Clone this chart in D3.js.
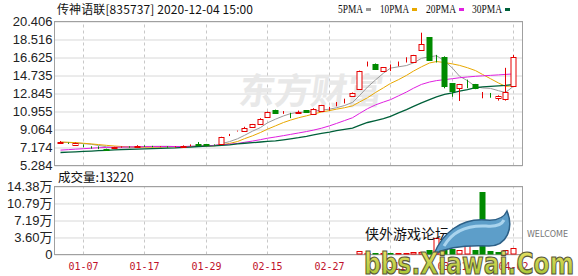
<!DOCTYPE html>
<html>
<head>
<meta charset="utf-8">
<script src="https://cdn.jsdelivr.net/npm/d3@7"></script>
<style>
body { margin: 0; background: #fff; }
svg { display: block; font-family: "Liberation Sans", Arial, "Noto Sans CJK SC", sans-serif; }
</style>
</head>
<body>
<svg id="chart" width="578" height="276"></svg>
<script>
// daily bars
const opens = [7.65,7.65,7.45,7.4,7.25,7.18,7.0,7.1,7.2,7.25,
    7.25,7.35,7.3,7.25,7.25,7.2,7.25,7.35,7.5,7.5,
    7.45,7.55,8.4,8.88,8.9,9.28,9.7,10.36,11.12,10.95,
    10.8,10.88,11.09,10.78,10.95,11.24,11.68,12.0,12.58,13.28,
    15.7,15.95,15.16,15.5,15.88,16.35,16.16,17.4,18.74,16.52,
    16.7,13.9,13.38,14.0,13.8,12.9,12.82,12.34,12.34,13.67];
const closes = [7.75,7.6,7.65,7.35,7.2,7.15,6.9,7.2,7.25,7.22,
    7.38,7.33,7.28,7.27,7.22,7.25,7.32,7.38,7.42,7.42,
    7.42,8.28,8.42,8.9,9.25,9.6,10.2,10.9,10.78,10.98,
    10.78,10.95,10.92,11.26,11.6,11.27,11.72,12.05,12.9,15.22,
    15.72,15.47,15.58,15.55,15.92,16.38,16.86,18.0,16.34,16.48,
    13.66,13.03,13.8,13.98,13.39,12.95,12.78,12.6,13.03,16.68];
const highs = [7.85,7.7,7.7,7.5,7.3,7.3,7.05,7.25,7.3,7.3,
    7.42,7.4,7.35,7.3,7.3,7.3,7.4,7.5,7.75,7.55,
    7.5,8.3,8.6,8.95,9.35,9.65,10.25,10.95,11.15,11.0,
    10.82,11.05,11.1,11.3,11.65,11.45,11.95,12.3,12.95,15.25,
    16.2,16.0,15.6,15.9,16.2,16.65,16.9,19.23,18.76,16.9,
    16.75,13.95,13.85,14.3,13.85,13.0,12.9,12.65,15.54,16.9];
const lows = [7.6,7.55,7.4,7.2,7.05,7.0,6.85,7.05,7.15,7.15,
    7.2,7.25,7.2,7.2,7.15,7.15,7.2,7.3,7.38,7.38,
    7.38,7.5,8.38,8.85,8.85,9.25,9.65,10.3,10.75,10.71,
    10.26,10.8,10.9,10.75,10.9,11.05,11.5,11.8,12.55,13.25,
    15.68,15.45,15.1,15.2,15.7,16.1,16.1,17.35,16.3,16.1,
    13.39,12.5,12.06,13.4,13.3,12.34,12.4,12.1,12.1,13.6];

const ma5 = [7.72,7.7,7.66,7.58,7.51,7.39,7.25,7.16,7.14,7.14,
    7.19,7.28,7.29,7.3,7.3,7.27,7.27,7.29,7.32,7.36,
    7.39,7.58,7.79,8.09,8.45,8.89,9.27,9.77,10.15,10.49,
    10.73,10.88,10.88,10.98,11.1,11.2,11.35,11.58,11.91,12.63,
    13.52,14.27,14.98,15.51,15.65,15.78,16.06,16.54,16.7,16.81,
    16.27,15.5,14.66,14.19,13.57,13.43,13.38,13.14,12.95,13.61];
const ma10 = [7.75,7.72,7.68,7.62,7.55,7.48,7.4,7.33,7.28,7.24,
    7.22,7.2,7.21,7.22,7.24,7.25,7.26,7.28,7.3,7.33,
    7.36,7.45,7.6,7.8,8.1,8.4,8.75,9.1,9.45,9.8,
    10.05,10.3,10.5,10.7,10.9,11.05,11.2,11.35,11.55,11.95,
    12.4,12.95,13.45,13.9,14.3,14.75,15.2,15.65,16.05,16.2,
    16.1,15.95,15.8,15.55,15.25,14.85,14.4,13.95,13.6,13.65];
const ma20 = [6.9,6.95,7.0,7.05,7.1,7.15,7.18,7.2,7.22,7.24,
    7.25,7.26,7.27,7.27,7.28,7.28,7.28,7.3,7.32,7.35,
    7.4,7.45,7.52,7.6,7.72,7.85,8.0,8.15,8.28,8.42,
    8.55,8.7,8.85,9.0,9.2,9.45,9.7,10.0,10.3,10.75,
    11.25,11.65,11.95,12.2,12.6,13.0,13.4,13.8,14.05,14.2,
    14.3,14.4,14.5,14.58,14.65,14.7,14.75,14.8,14.85,14.9];
const ma30 = [6.65,6.68,6.72,6.76,6.8,6.84,6.88,6.92,6.95,6.98,
    7.0,7.02,7.05,7.08,7.1,7.13,7.18,7.22,7.28,7.32,
    7.35,7.4,7.45,7.55,7.62,7.68,7.75,7.82,7.88,7.98,
    8.08,8.2,8.35,8.5,8.65,8.8,8.95,9.07,9.2,9.5,
    9.8,10.0,10.2,10.45,10.8,11.15,11.5,11.85,12.2,12.5,
    12.75,12.9,13.1,13.25,13.45,13.55,13.6,13.65,13.7,13.8];

const volumes = [800,600,700,900,500,600,1200,400,300,500,
    700,400,300,300,400,300,500,600,900,600,
    400,1500,1200,1000,1300,1100,1500,1800,1600,1200,
    900,1000,800,1100,1300,900,1000,1200,1500,6800,
    4000,3500,3000,2500,3000,4000,5000,6000,9000,34000,
    14000,12000,10000,30000,10000,133000,8000,6000,9000,13220];

const priceTicks = [5.284, 7.174, 9.064, 10.955, 12.845, 14.735, 16.625, 18.516, 20.406];
const volTicks = [0, 36000, 71900, 107900, 143800];
const volTickLabels = ["0", "3.60万", "7.19万", "10.79万", "14.38万"];
const dateTickIdx = [3, 11, 19, 27, 35, 43, 51, 59];
const dateTickLabels = ["01-07", "01-17", "01-29", "02-15", "02-27", "03-11", "03-21", "04-02"];

const maNames = ["5PMA", "10PMA", "20PMA", "30PMA"];
const maColors = ["#9a9a9a", "#e8a800", "#e020e0", "#00603a"];

const RED = "#e60000", GREEN = "#008a00";

const svg = d3.select("#chart");
const left = 54.5, right = 522.5;
const pTop = 21.5, pBottom = 165.5;
const vTop = 186.5, vBottom = 254.5;

const idx = d3.range(closes.length);
const x = d3.scaleBand().domain(idx).range([56, 517]);
const cx = i => Math.round(x(i) + x.bandwidth() / 2) + 0.5;
const y = d3.scaleLinear().domain([5.284, 20.406]).range([pBottom, pTop]);
const yv = d3.scaleLinear().domain([0, 143800]).range([vBottom, vTop]);

// horizontal grid
function hGrid(scale, ticks) {
    const g = svg.append("g")
        .attr("transform", `translate(${left},0)`)
        .call(d3.axisLeft(scale).tickValues(ticks).tickSize(-(right - left)).tickFormat(""));
    g.select(".domain").remove();
    g.selectAll("line").attr("stroke", "#d8d8d8");
}
hGrid(y, priceTicks);
hGrid(yv, volTicks);

// vertical dashed grid
[[pTop, pBottom], [vTop, vBottom]].forEach(([t, b]) => {
    const g = svg.append("g")
        .attr("transform", `translate(0,${b})`)
        .call(d3.axisBottom(x).tickValues(dateTickIdx).tickSize(-(b - t)).tickFormat(""));
    g.select(".domain").remove();
    g.selectAll(".tick").attr("transform", d => `translate(${cx(d)},0)`);
    g.selectAll("line").attr("stroke", "#c8c8c8").attr("stroke-dasharray", "3,3");
});

// watermark
svg.append("text")
    .attr("x", 238).attr("y", 104)
    .attr("transform", "skewX(-8) translate(14,0)")
    .attr("font-family", "Noto Sans CJK SC")
    .attr("font-weight", "bold")
    .attr("font-size", 36)
    .attr("fill", "#e8e8e8")
    .text("东方财富");

// frames
svg.append("rect").attr("x", left).attr("y", pTop).attr("width", right - left).attr("height", pBottom - pTop)
    .attr("fill", "none").attr("stroke", "#a0a0a0");
svg.append("rect").attr("x", left).attr("y", vTop).attr("width", right - left).attr("height", vBottom - vTop)
    .attr("fill", "none").attr("stroke", "#a0a0a0");

// moving averages
const line = d3.line().x((d, i) => cx(i)).y(d => y(d));
[ma5, ma10, ma20, ma30].forEach((s, k) => {
    svg.append("path").datum(s)
        .attr("d", line)
        .attr("fill", "none")
        .attr("stroke", maColors[k])
        .attr("stroke-width", k === 3 ? 1.3 : 1);
});

// candles
const up = i => closes[i] >= opens[i];
const candles = svg.append("g").selectAll("g").data(idx).join("g");
candles.append("line")
    .attr("x1", cx).attr("x2", cx)
    .attr("y1", i => y(highs[i])).attr("y2", i => y(lows[i]))
    .attr("stroke", i => up(i) ? RED : GREEN);
candles.append("rect")
    .attr("x", i => cx(i) - 2.5)
    .attr("y", i => Math.round(y(Math.max(opens[i], closes[i]))) + 0.5)
    .attr("width", 5)
    .attr("height", i => Math.round(Math.abs(y(opens[i]) - y(closes[i]))))
    .attr("fill", i => up(i) ? "#fff" : GREEN)
    .attr("stroke", i => up(i) ? RED : GREEN);

// volume
const volUp = i => i === 0 ? closes[0] >= opens[0] : closes[i] >= closes[i - 1];
svg.append("g").selectAll("rect").data(idx).join("rect")
    .attr("x", i => cx(i) - 2.5)
    .attr("y", i => Math.min(vBottom - 1, Math.round(yv(volumes[i])) + 0.5))
    .attr("width", 5)
    .attr("height", i => Math.max(0, vBottom - 1 - Math.round(yv(volumes[i]))))
    .attr("fill", i => volUp(i) ? "#fff" : GREEN)
    .attr("stroke", i => volUp(i) ? RED : GREEN);

// axis labels
function labels(scale, ticks, fmt) {
    const g = svg.append("g")
        .attr("transform", `translate(${left},0)`)
        .call(d3.axisLeft(scale).tickValues(ticks).tickSize(0).tickPadding(2).tickFormat(fmt));
    g.select(".domain").remove();
    g.selectAll("text").attr("font-size", 13).attr("fill", "#222")
        .attr("font-family", "'Liberation Sans', Arial, 'Noto Sans CJK SC'");
}
labels(y, priceTicks, d3.format(".3f"));
labels(yv, volTicks, (d, i) => volTickLabels[i]);

const xa = svg.append("g")
    .attr("transform", `translate(0,${vBottom})`)
    .call(d3.axisBottom(x).tickValues(dateTickIdx).tickSize(0).tickPadding(8)
        .tickFormat((d, i) => dateTickLabels[i]));
xa.select(".domain").remove();
xa.selectAll(".tick").attr("transform", d => `translate(${cx(d)},0)`);
xa.selectAll("text").attr("font-size", 10).attr("fill", "#c0102a")
    .attr("font-family", "'DejaVu Sans Mono', monospace");

// title and legend
svg.append("text").attr("x", 57).attr("y", 14)
    .attr("font-family", "'Noto Sans CJK SC'").attr("font-size", 12).attr("fill", "#111")
    .attr("textLength", 196).attr("lengthAdjust", "spacing")
    .text("传神语联[835737] 2020-12-04 15:00");

const legendX = [338, 380, 426, 472];
const legendW = [25, 29, 30, 30];
const lg = svg.append("g").selectAll("g").data(maNames).join("g")
    .attr("transform", (d, i) => `translate(${legendX[i]},0)`);
lg.append("text").attr("y", 13)
    .attr("font-family", "'Liberation Serif', serif").attr("font-size", 12.5).attr("fill", "#111")
    .attr("textLength", (d, i) => legendW[i]).attr("lengthAdjust", "spacingAndGlyphs")
    .text(d => d);
lg.append("rect").attr("x", (d, i) => legendW[i] + 3).attr("y", 8).attr("width", 5).attr("height", 3)
    .attr("fill", (d, i) => maColors[i]);

svg.append("text").attr("x", 58).attr("y", 182)
    .attr("font-size", 12.5).attr("fill", "#111")
    .attr("font-family", "'Noto Sans CJK SC'")
    .text("成交量:" + volumes[volumes.length - 1]);

// forum overlay
svg.append("text").attr("x", 365).attr("y", 239)
    .attr("font-family", "'Noto Sans CJK SC'").attr("font-size", 14).attr("fill", "#111")
    .text("侠外游戏论坛");
svg.append("text").attr("x", 527).attr("y", 237)
    .attr("font-family", "'DejaVu Sans'").attr("font-size", 8).attr("fill", "#777")
    .attr("textLength", 41)
    .text("WELCOME");
svg.append("path")
    .attr("d", "M434,254 C442,234 460,218 486,220 C498,221 504,218 507,211 C514,228 507,246 489,246 C470,245 450,246 434,254 Z")
    .attr("fill", "#5d9ec9").attr("stroke", "#2c5f86").attr("stroke-width", 1.5);
svg.append("path")
    .attr("d", "M444,246 C452,232 466,225 486,226 C496,227 502,224 504,220")
    .attr("fill", "none").attr("stroke", "#a9d4ee").attr("stroke-width", 3);
const grad = svg.append("defs").append("linearGradient").attr("id", "wm").attr("x1", 0).attr("y1", 0).attr("x2", 0).attr("y2", 1);
grad.append("stop").attr("offset", "0%").attr("stop-color", "#f3e36a");
grad.append("stop").attr("offset", "100%").attr("stop-color", "#9ac22c");
svg.append("text").attr("x", 364).attr("y", 274)
    .attr("font-family", "'DejaVu Sans'").attr("font-weight", "bold").attr("font-size", 30)
    .attr("textLength", 210).attr("lengthAdjust", "spacingAndGlyphs")
    .attr("fill", "url(#wm)").attr("stroke", "#5a5a3a").attr("stroke-width", 1.2)
    .text("bbs.Xiawai.Com");
</script>
</body>
</html>
